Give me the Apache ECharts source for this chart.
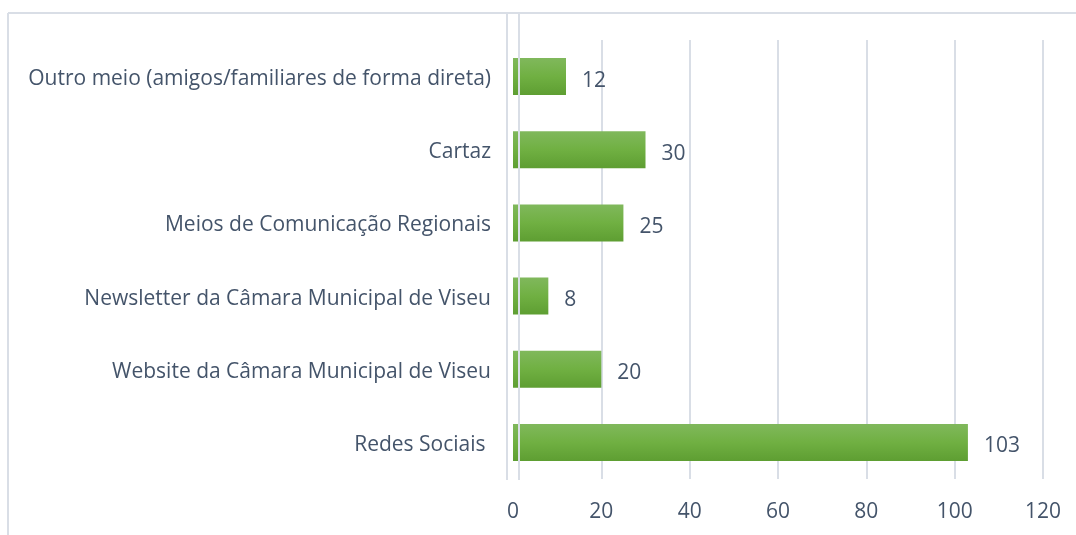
<!DOCTYPE html>
<html>
<head>
<meta charset="utf-8">
<script src="https://cdn.jsdelivr.net/npm/echarts@6/dist/echarts.min.js"></script>
<style>
  html, body { margin: 0; padding: 0; background: #fff; }
  #chart { width: 1076px; height: 535px; }
</style>
</head>
<body>
<div id="chart"></div>
<script>
// categorias (de baixo para cima, como no eixo)
var categorias = [
  'Redes Sociais ',
  'Website da Câmara Municipal de Viseu',
  'Newsletter da Câmara Municipal de Viseu',
  'Meios de Comunicação Regionais',
  'Cartaz',
  'Outro meio (amigos/familiares de forma direta)'
];
var valores = [103, 20, 8, 25, 30, 12];
var eixoMin = 0, eixoMax = 120, eixoPasso = 20;

var corTexto = '#44546a';
var corGrelha = '#d9dee6';
var fonte = 'Open Sans';

var chart = echarts.init(document.getElementById('chart'));

var option = {
  backgroundColor: '#fff',
  animation: false,
  grid: { left: 513, right: 33, top: 40, bottom: 56 },
  xAxis: {
    type: 'value',
    min: eixoMin,
    max: eixoMax,
    interval: eixoPasso,
    axisLine: { show: false },
    axisTick: { show: false },
    splitLine: { showMinLine: false, lineStyle: { color: corGrelha, width: 2 } },
    axisLabel: { color: corTexto, fontSize: 21, fontFamily: fonte, margin: 23 }
  },
  yAxis: {
    type: 'category',
    data: categorias,
    axisLine: { show: false },
    axisTick: { show: false },
    axisLabel: {
      margin: 22,
      formatter: function (v) { return '{c|' + v + '}'; },
      rich: {
        c: { color: corTexto, fontSize: 21, fontFamily: fonte, padding: [5, 0, 0, 0] }
      }
    }
  },
  series: [{
    type: 'bar',
    data: valores,
    barWidth: 37,
    itemStyle: {
      color: new echarts.graphic.LinearGradient(0, 0, 0, 1, [
        { offset: 0, color: '#80b85c' },
        { offset: 0.5, color: '#70b042' },
        { offset: 1, color: '#5e9e32' }
      ])
    },
    label: {
      show: true,
      position: 'right',
      distance: 16,
      offset: [0, 4],
      color: corTexto,
      fontSize: 21,
      fontFamily: fonte
    }
  }],
  graphic: [
    // moldura da área do gráfico
    { type: 'line', shape: { x1: 8, y1: 13, x2: 1076, y2: 13 }, style: { stroke: corGrelha, lineWidth: 2 }, z: 10 },
    { type: 'line', shape: { x1: 8, y1: 13, x2: 8, y2: 535 }, style: { stroke: corGrelha, lineWidth: 2 }, z: 10 },
    // linhas verticais junto ao eixo
    { type: 'line', shape: { x1: 507, y1: 13, x2: 507, y2: 480 }, style: { stroke: corGrelha, lineWidth: 2 }, z: 10 },
    { type: 'line', shape: { x1: 519, y1: 13, x2: 519, y2: 480 }, style: { stroke: corGrelha, lineWidth: 2 }, z: 10 }
  ]
};

chart.setOption(option);
</script>
</body>
</html>
